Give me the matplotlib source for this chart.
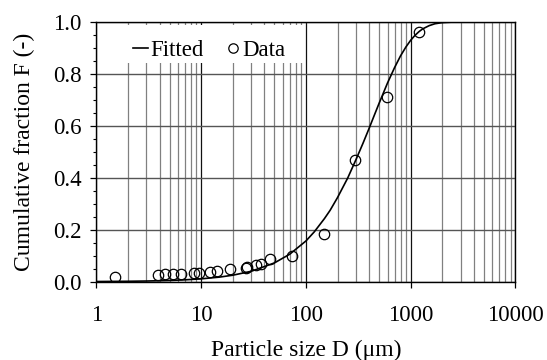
import matplotlib
matplotlib.use("Agg")
import matplotlib.pyplot as plt
from matplotlib.patches import Rectangle
from matplotlib.ticker import LogLocator, FixedLocator, NullFormatter, FixedFormatter

# Measured data points
data_d = [1.5, 3.86, 4.5, 5.37, 6.4, 8.5, 9.5, 12.0, 14.0, 18.8, 26.5, 27.5,
          33.0, 36.9, 45.7, 74.0, 148.0, 295.0, 589.0, 1194.0]
data_f = [0.017, 0.026, 0.030, 0.030, 0.030, 0.033, 0.035, 0.039, 0.042, 0.048,
          0.054, 0.058, 0.063, 0.069, 0.089, 0.100, 0.184, 0.468, 0.710, 0.963]

# Fitted curve
fit_d = [1, 2, 3, 5, 7, 10, 15, 20, 30, 50, 70, 100, 120, 150, 170, 200, 250, 300,
         350, 400, 450, 500, 600, 700, 800, 900, 1000, 1100, 1200, 1300, 1500,
         1700, 2000, 2500, 3000, 4000, 5000, 10000]
fit_f = [0.0007, 0.0016, 0.0026, 0.0048, 0.0072, 0.0110, 0.0178, 0.0250, 0.0401,
         0.0724, 0.106, 0.157, 0.192, 0.243, 0.275, 0.324, 0.399, 0.470,
         0.533, 0.590, 0.642, 0.688, 0.765, 0.824, 0.870, 0.904, 0.930, 0.949,
         0.963, 0.9735, 0.986, 0.9932, 0.9977, 0.9996, 0.99995, 1.0, 1.0, 1.0]

x_ticks = [1, 10, 100, 1000, 10000]
x_tick_labels = ["1", "10", "100", "1000", "10000"]
y_ticks = [0.0, 0.2, 0.4, 0.6, 0.8, 1.0]
y_tick_labels = ["0.0", "0.2", "0.4", "0.6", "0.8", "1.0"]

plt.rcParams['font.family'] = ['Liberation Serif', 'DejaVu Serif']
FS_TICK = 16.5
FS_LABEL = 17
FS_LEG = 16.5

fig = plt.figure(figsize=(5.47, 3.6), dpi=100)
ax = fig.add_axes([0.1764, 0.2175, 0.766, 0.7214])

ax.set_xscale('log')
ax.set_xlim(1, 10000)
ax.set_ylim(0, 1.0)

ax.xaxis.set_major_locator(FixedLocator(x_ticks))
ax.xaxis.set_major_formatter(FixedFormatter(x_tick_labels))
ax.xaxis.set_minor_locator(LogLocator(base=10, subs=range(2, 10)))
ax.xaxis.set_minor_formatter(NullFormatter())
ax.yaxis.set_major_locator(FixedLocator(y_ticks))
ax.yaxis.set_major_formatter(FixedFormatter(y_tick_labels))
ax.yaxis.set_minor_locator(FixedLocator([i * 0.05 for i in range(21)]))

ax.grid(True, which='major', axis='x', color='#111111', linewidth=0.9, zorder=0)
ax.grid(True, which='minor', axis='x', color='#808080', linewidth=0.9, zorder=0)
ax.grid(True, which='major', axis='y', color='#555555', linewidth=1.0, zorder=0)
ax.set_axisbelow(True)

ax.tick_params(axis='x', which='major', direction='out', length=4.5, width=0.9,
               labelsize=FS_TICK, pad=12)
ax.tick_params(axis='x', which='minor', length=0)
ax.tick_params(axis='y', which='major', direction='out', length=4.5, width=0.9,
               labelsize=FS_TICK, pad=6)
ax.tick_params(axis='y', which='minor', direction='out', length=2.5, width=0.8)

for s in ax.spines.values():
    s.set_linewidth(1.0)
    s.set_color('black')

# white legend background box
ax.add_patch(Rectangle((0.068, 0.842), 0.427, 0.146, transform=ax.transAxes,
                       facecolor='white', edgecolor='none', zorder=1))

ax.plot(fit_d, fit_f, color='black', linewidth=1.2, label='Fitted', zorder=3)
ax.plot(data_d, data_f, linestyle='none', marker='o', markersize=7.5,
        markerfacecolor='none', markeredgecolor='black', markeredgewidth=0.9,
        label='Data', zorder=4)

ax.set_xlabel('Particle size D (μm)', fontsize=FS_LABEL, labelpad=10.5)
ax.set_ylabel('Cumulative fraction F (-)', fontsize=FS_LABEL, labelpad=13)

leg = ax.legend(loc='center left', bbox_to_anchor=(0.0864, 0.892), ncol=2,
                fontsize=FS_LEG, frameon=False, handlelength=0.68,
                handletextpad=0.07, columnspacing=0.95, borderpad=0,
                borderaxespad=0, markerscale=0.9)
leg.set_zorder(5)

fig.savefig('out.png', dpi=100)
